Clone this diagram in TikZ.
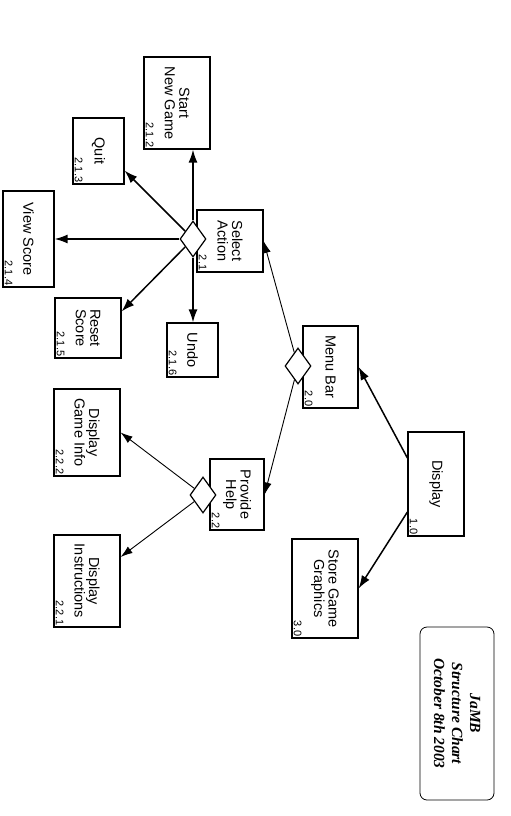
\documentclass[tikz,border=0pt]{standalone}
\usepackage{fontspec}
\setmainfont{Liberation Sans}
\newfontfamily\legendfont{Liberation Serif}
\usetikzlibrary{shapes.geometric,arrows.meta,calc}
\pgfdeclarelayer{background}
\pgfsetlayers{background,main}
\tikzset{
 box/.style={draw, line width=1.2pt, inner sep=0pt},
 lbl/.style={rotate=-90, align=center, font=\fontsize{14.5}{14.5}\selectfont, inner sep=0pt},
 num/.style={rotate=-90, font=\fontsize{11}{11}\selectfont, inner sep=2.2pt, anchor=south east},
 dia/.style={diamond, draw, fill=white, line width=1.2pt, inner sep=0pt, minimum width=26pt, minimum height=36pt, aspect=0.72},
 bigarrow/.style={-{Latex[length=13pt,width=9pt]}, line width=1.5pt},
 smallarrow/.style={-{Latex[length=12pt,width=8pt]}, line width=0.9pt},
 legendbox/.style={draw, rounded corners=7pt, line width=0.8pt},
 legendtext/.style={rotate=-90, align=center, font=\legendfont\bfseries\itshape\fontsize{15.5}{18}\selectfont},
}
\newcommand\chartbox[7]{%
 \node[box, minimum width=#4pt, minimum height=#5pt] (#1) at (#2,#3) {};
 \node[lbl] (#1-t) at (#1) {#6};
 \node[num] (#1-n) at (#1.south west) {#7};}
\begin{document}
\begin{tikzpicture}[x=1pt,y=-1pt]
\begin{pgfonlayer}{background}
\fill[white] (0,0) rectangle (511,816);
\end{pgfonlayer}
\useasboundingbox (0,0) rectangle (511,816);
% boxes
\chartbox{sng}{177}{103}{66}{92}{Start\\New Game}{2.1.2}
\chartbox{quit}{98.5}{151}{51}{66}{Quit}{2.1.3}
\chartbox{vs}{28.5}{239}{51}{96}{View Score}{2.1.4}
\chartbox{rs}{88}{328}{66}{60}{Reset\\Score}{2.1.5}
\chartbox{undo}{192.5}{350}{51}{54}{Undo}{2.1.6}
\chartbox{sa}{230}{241}{66}{62}{Select\\Action}{2.1}
\chartbox{mb}{330.5}{367}{55}{82}{Menu Bar}{2.0}
\chartbox{disp}{436}{484}{56}{104}{Display}{1.0}
\chartbox{sgg}{325}{588.5}{66}{99}{Store Game\\Graphics}{3.0}
\chartbox{ph}{237}{494.5}{54}{71}{Provide\\Help}{2.2}
\chartbox{dgi}{87}{432.5}{66}{87}{Display\\Game Info}{2.2.2}
\chartbox{di}{87}{581}{66}{92}{Display\\Instructions}{2.2.1}
% legend
\node[legendbox, minimum width=74pt, minimum height=173pt] (leg) at (457,713.5) {};
\node[legendtext] (leg-t) at (leg) {JaMB\\Structure Chart\\October 8th 2003};
% diamonds
\node[dia] (sd) at (193,239) {};
\node[dia] (md) at (298,366) {};
\node[dia] (hd) at (203,495) {};
% connectors (behind shapes)
\begin{pgfonlayer}{background}
\draw[bigarrow] (sd) -- (sd |- sng.south);
\draw[bigarrow] (sd) -- ([yshift=14pt]quit.south east);
\draw[bigarrow] (sd) -- (vs.east);
\draw[bigarrow] (sd) -- ([yshift=-14pt]rs.north east);
\draw[bigarrow] (sd) -- (sd |- undo.north);
\draw[smallarrow] (md) -- (sa.east);
\draw[smallarrow] (md) -- (ph.east);
\draw[bigarrow] ([yshift=26pt]disp.west) -- (mb.east);
\draw[bigarrow] ([yshift=-28pt]disp.west) -- (sgg.east);
\draw[smallarrow] (hd) -- (dgi.east);
\draw[smallarrow] (hd) -- ([yshift=24pt]di.east);
\end{pgfonlayer}
\end{tikzpicture}
\end{document}
